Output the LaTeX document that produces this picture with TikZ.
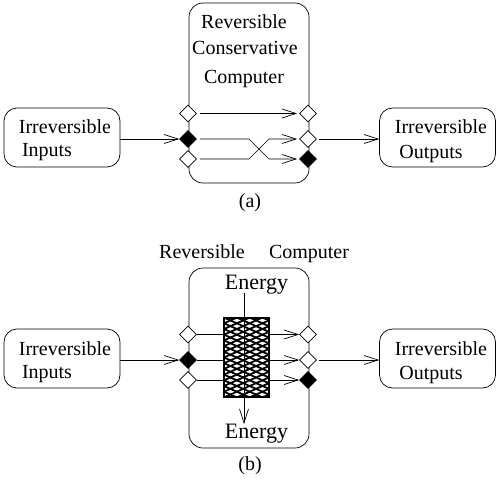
\documentclass[tikz,border=0pt]{standalone}
\usepackage{fontspec}
\setmainfont{Liberation Serif}
\usetikzlibrary{arrows.meta, shapes.geometric}
\tikzset{
    endbox/.style = {draw, rounded corners = 13pt, minimum width = 116pt, minimum height = 59pt, line width = 0.7pt},
    machine/.style = {draw, rounded corners = 14pt, minimum width = 120pt, minimum height = 180pt, line width = 0.7pt},
    port/.style = {draw, diamond, fill = #1, inner sep = 0pt, minimum width = 17pt, minimum height = 17pt, line width = 0.6pt},
    label/.style = {inner sep = 0pt, anchor = base, font = \fontsize{20}{22}\selectfont},
    biglabel/.style = {label, font = \fontsize{22}{24}\selectfont},
    flow/.style = {-{Straight Barb[length = 14pt, width = 9pt]}, line width = 0.7pt}
}
\begin{document}
\begin{tikzpicture}[x = 1pt, y = -1pt]
    \useasboundingbox (0, 0) rectangle (498, 484);
    % upper and lower machine
    \node[machine] (macha) at (249, 93) {};
    \node[machine] (machb) at (249, 358) {};
    \foreach \p/\d in {a/0, b/221}{
        \node[endbox] (in\p) at (62, 137.5 + \d) {};
        \node[endbox] (out\p) at (437.5, 137.5 + \d) {};
        \node[label] (in\p top) at (65, 134 + \d) {Irreversible};
        \node[label] (in\p low) at (47, 157 + \d) {Inputs};
        \node[label] (out\p top) at (441, 134 + \d) {Irreversible};
        \node[label] (out\p low) at (431, 158 + \d) {Outputs};
        \foreach \c/\y [count = \i] in {white/113.5, black/139, white/159}{
            \node[port = \c] (l\p\i) at (188, \y + \d) {};
        }
        \foreach \c/\y [count = \i] in {white/113.5, white/139, black/159}{
            \node[port = \c] (r\p\i) at (308, \y + \d) {};
        }
        \draw[flow] (in\p.east |- l\p2) -- (l\p2);
        \draw[flow, shorten < = 2pt] (r\p2) -- (r\p2 -| out\p.west);
    }
    % crossing wires of (a)
    \coordinate (xl2) at (249, 139);
    \coordinate (xl3) at (249, 159);
    \coordinate (xr2) at (269, 139);
    \coordinate (xr3) at (269, 159);
    \draw[flow, shorten < = 3pt, shorten > = 2pt] (la1) -- (ra1);
    \draw[flow, shorten < = 3pt, shorten > = 2pt] (la2) -- (xl2) -- (xr3) -- (ra3);
    \draw[flow, shorten < = 3pt, shorten > = 2pt] (la3) -- (xl3) -- (xr2) -- (ra2);
    % wires of (b) run under the mesh
    \foreach \i in {1, 2, 3}{
        \draw[flow] (lb\i) -- (rb\i);
    }
    \node[draw, fill = white, inner sep = 0pt, minimum width = 45pt, minimum height = 79pt, line width = 1.2pt,
        path picture = {
            \foreach \k in {-12, ..., 12}{
                \draw[line width = 1.8pt] (-22.5, 5.7 * \k) -- ++(45, 20);
                \draw[line width = 1.8pt] (-22.5, 5.7 * \k) -- ++(45, -20);
            }
        }] (mesh) at (246.5, 357.5) {};
    \node[biglabel] (enerin) at (256.5, 289) {Energy};
    \node[biglabel] (enerout) at (256.5, 438) {Energy};
    \draw[flow] (244, 293) -- (244, 424);
    \node[label] (capa) at (250, 207) {(a)};
    \node[label] (capb) at (250, 470) {(b)};
    \node[label] (reva) at (244, 29) {Reversible};
    \node[label] (cons) at (245, 55) {Conservative};
    \node[label] (compa) at (244, 84) {Computer};
    \node[label] (revb) at (202, 258) {Reversible};
    \node[label] (compb) at (309, 258) {Computer};
\end{tikzpicture}
\end{document}
